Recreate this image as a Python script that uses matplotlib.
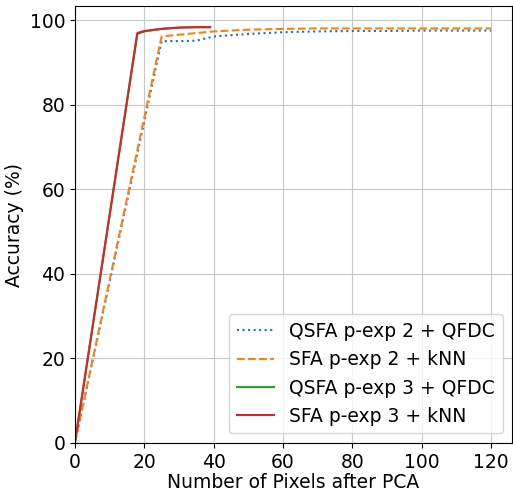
import matplotlib
matplotlib.use('Agg')
import matplotlib.pyplot as plt

# data
x_qsfa2 = [0, 25, 30, 35, 40, 50, 60, 70, 80, 90, 100, 110, 120]
y_qsfa2 = [0, 95.1, 95.1, 95.2, 96.2, 96.8, 97.2, 97.4, 97.5, 97.5, 97.6, 97.6, 97.6]
x_sfa2 = [0, 25, 30, 35, 40, 50, 60, 70, 80, 90, 100, 110, 120]
y_sfa2 = [0, 96.2, 96.6, 97.0, 97.4, 97.8, 98.0, 98.1, 98.1, 98.1, 98.1, 98.1, 98.1]
x_qsfa3 = [0, 18, 20, 25, 30, 35, 39]
y_qsfa3 = [0, 96.8, 97.4, 98.0, 98.3, 98.4, 98.4]
x_sfa3 = [0, 18, 20, 25, 30, 35, 39]
y_sfa3 = [0, 97.0, 97.5, 98.0, 98.3, 98.4, 98.4]

plt.rcParams['font.size'] = 13.5
fig, ax = plt.subplots(figsize=(5.13, 4.92), dpi=100)
ax.plot(x_qsfa2, y_qsfa2, linestyle=':', color='#1f77b4', label='QSFA p-exp 2 + QFDC')
ax.plot(x_sfa2, y_sfa2, linestyle='--', color='#ff7f0e', label='SFA p-exp 2 + kNN')
ax.plot(x_qsfa3, y_qsfa3, linestyle='-', color='#2ca02c', label='QSFA p-exp 3 + QFDC')
ax.plot(x_sfa3, y_sfa3, linestyle='-', color='#d62728', label='SFA p-exp 3 + kNN')
ax.set_xlim(left=0)
ax.set_ylim(bottom=0)
ax.set_xlabel('Number of Pixels after PCA', labelpad=1)
ax.set_ylabel('Accuracy (%)')
ax.grid(True, color='#c8c8c8')
ax.legend(loc='lower right')
plt.subplots_adjust(left=0.146, right=0.998, top=0.987, bottom=0.1)
plt.savefig('out.png')
